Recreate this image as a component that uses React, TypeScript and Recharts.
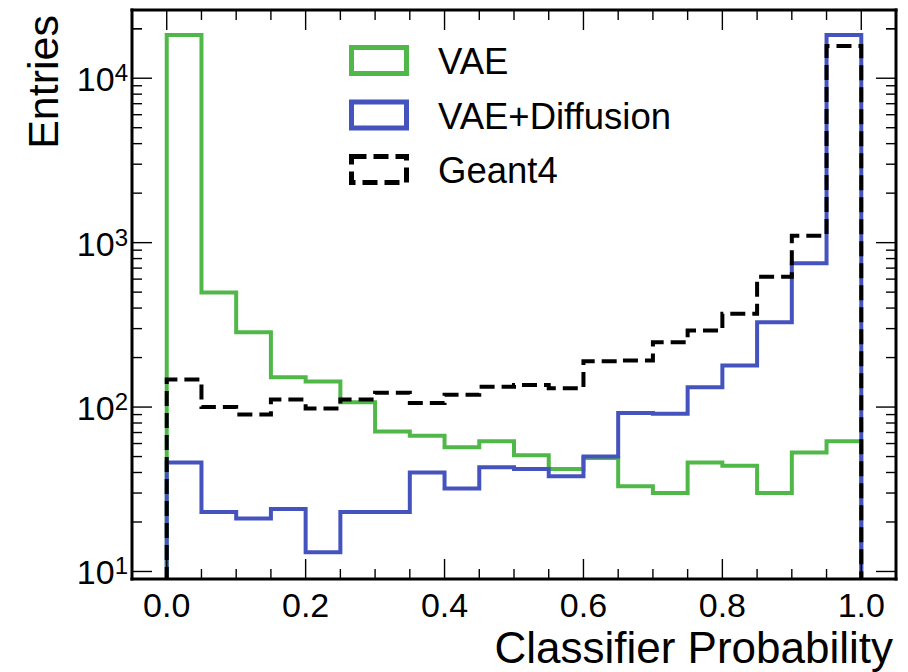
import React from 'react';
import { LineChart, Line, XAxis, YAxis } from 'recharts';

// bin edges of the classifier-probability histogram (20 bins)
const binEdges = [
  0, 0.05, 0.1, 0.15, 0.2, 0.25, 0.3, 0.35, 0.4, 0.45, 0.5,
  0.55, 0.6, 0.65, 0.7, 0.75, 0.8, 0.85, 0.9, 0.95, 1.0,
];

// entries per bin
const vaeCounts = [18300, 497, 285, 152, 143, 107, 71, 67, 57, 62, 51, 42, 49, 33, 30, 46, 44, 30, 53, 62];
const diffusionCounts = [46, 23, 21, 24, 13.1, 23, 23, 40, 32, 43, 42, 38, 50, 92, 91, 132, 179, 328, 750, 18300];
const geant4Counts = [147, 100, 90, 111, 98, 111, 122, 106, 119, 133, 136, 130, 190, 192, 248, 292, 369, 621, 1100, 15700];

const seriesNames = ['VAE', 'VAE+Diffusion', 'Geant4'];
const seriesKeys = ['vae', 'diffusion', 'geant4'];
const seriesColors = ['#50b848', '#4453bd', '#000000'];

const xMajorTicks = [0, 0.2, 0.4, 0.6, 0.8, 1.0];
const xMajorLabels = ['0.0', '0.2', '0.4', '0.6', '0.8', '1.0'];
const yDecades = [10, 100, 1000, 10000];
const yDecadeExponents = ['1', '2', '3', '4'];

const X_DOMAIN = [-0.05, 1.05];
const Y_DOMAIN = [9, 26000];
const FLOOR = 1; // below the axis: outline drops to the frame at both ends

const FONT = '"Liberation Sans", Arial, Helvetica, sans-serif';

function buildRows() {
  const last = vaeCounts.length - 1;
  const rows: Record<string, number>[] = [];
  rows.push({ x: binEdges[0], vae: FLOOR, diffusion: FLOOR, geant4: FLOOR });
  binEdges.forEach((edge, i) => {
    const k = Math.min(i, last);
    rows.push({
      x: edge,
      vae: vaeCounts[k],
      diffusion: diffusionCounts[k],
      geant4: geant4Counts[k],
    });
  });
  rows.push({ x: binEdges[binEdges.length - 1], vae: FLOOR, diffusion: FLOOR, geant4: FLOOR });
  return rows;
}

// minor ticks 2..9 x decade, plus decades
const yTicks: number[] = [];
yDecades.forEach((d) => {
  for (let m = 1; m <= 9; m++) {
    const v = d * m;
    if (v <= Y_DOMAIN[1]) yTicks.push(v);
  }
});
yTicks.push(20000);

const majorIndex = (v: number) => xMajorTicks.findIndex((t) => Math.abs(t - v) < 1e-6);
const decadeIndex = (v: number) => yDecades.findIndex((t) => Math.abs(t - v) < 1e-6);

const TICK = { stroke: '#000', strokeWidth: 1.4 };

function XTickBottom(props: any) {
  const { x, y, payload } = props;
  const mi = majorIndex(payload.value);
  return (
    <g>
      <line x1={x} x2={x} y1={y} y2={y - (mi >= 0 ? 20 : 10)} {...TICK} />
      {mi >= 0 && (
        <text x={x} y={y + 38} textAnchor="middle" fontSize={34} fontFamily={FONT} fill="#000">
          {xMajorLabels[mi]}
        </text>
      )}
    </g>
  );
}

function XTickTop(props: any) {
  const { x, y, payload } = props;
  const mi = majorIndex(payload.value);
  return <line x1={x} x2={x} y1={y} y2={y + (mi >= 0 ? 20 : 10)} {...TICK} />;
}

function YTickLeft(props: any) {
  const { x, y, payload } = props;
  const di = decadeIndex(payload.value);
  return (
    <g>
      <line x1={x} x2={x + (di >= 0 ? 20 : 10)} y1={y} y2={y} {...TICK} />
      {di >= 0 && (
        <text x={x - 4} y={y + 13} textAnchor="end" fontSize={34} fontFamily={FONT} fill="#000">
          <tspan>10</tspan>
          <tspan fontSize={24} dy={-10}>{yDecadeExponents[di]}</tspan>
        </text>
      )}
    </g>
  );
}

function YTickRight(props: any) {
  const { x, y, payload } = props;
  const di = decadeIndex(payload.value);
  return <line x1={x} x2={x - (di >= 0 ? 20 : 10)} y1={y} y2={y} {...TICK} />;
}

const frameLine = { stroke: '#000', strokeWidth: 3, strokeLinecap: 'square' as const };

function YTitle(props: any) {
  const vb = props.viewBox;
  const x = vb.x + 58;
  const y = vb.y + 5;
  return (
    <text x={x} y={y} transform={`rotate(-90, ${x}, ${y})`} textAnchor="end" fontSize={43} fontFamily={FONT} fill="#000">
      Entries
    </text>
  );
}

function XTitle(props: any) {
  const vb = props.viewBox;
  return (
    <text x={vb.x + vb.width - 3} y={vb.y + 84} textAnchor="end" fontSize={44} fontFamily={FONT} fill="#000">
      Classifier Probability
    </text>
  );
}

function HistLegend() {
  return (
    <svg width={380} height={190} style={{ position: 'absolute', left: 340, top: 36 }}>
      {seriesNames.map((name, i) => (
        <g key={name} transform={`translate(0, ${i * 54.5})`}>
          <rect
            x={11.5}
            y={11.5}
            width={55}
            height={26}
            fill="none"
            stroke={seriesColors[i]}
            strokeWidth={5}
            strokeDasharray={i === 2 ? '15 7' : undefined}
          />
          <text x={98} y={38} fontSize={36.5} fontFamily={FONT} fill="#000">
            {name}
          </text>
        </g>
      ))}
    </svg>
  );
}

export default function App() {
  const rows = buildRows();
  return (
    <div style={{ position: 'relative', width: 908, height: 672, background: '#fff' }}>
      <style>{'body { margin: 0; }'}</style>
      <LineChart width={908} height={672} data={rows} margin={{ top: 0, right: 0, bottom: 0, left: 0 }}>
        <XAxis
          dataKey="x"
          type="number"
          domain={X_DOMAIN}
          allowDataOverflow
          ticks={binEdges}
          interval={0}
          height={93}
          tickSize={0}
          tickMargin={0}
          tickLine={false}
          axisLine={frameLine}
          tick={<XTickBottom />}
          label={<XTitle />}
        />
        <XAxis
          xAxisId="top"
          orientation="top"
          dataKey="x"
          type="number"
          domain={X_DOMAIN}
          allowDataOverflow
          ticks={binEdges}
          interval={0}
          height={10}
          tickSize={0}
          tickMargin={0}
          tickLine={false}
          axisLine={frameLine}
          tick={<XTickTop />}
        />
        <YAxis
          scale="log"
          type="number"
          domain={Y_DOMAIN}
          allowDataOverflow
          ticks={yTicks}
          interval={0}
          width={132}
          tickSize={0}
          tickMargin={0}
          tickLine={false}
          axisLine={frameLine}
          tick={<YTickLeft />}
          label={<YTitle />}
        />
        <YAxis
          yAxisId="right"
          orientation="right"
          scale="log"
          type="number"
          domain={Y_DOMAIN}
          allowDataOverflow
          ticks={yTicks}
          interval={0}
          width={12}
          tickSize={0}
          tickMargin={0}
          tickLine={false}
          axisLine={frameLine}
          tick={<YTickRight />}
        />
        {seriesKeys.map((key, i) => (
          <Line
            key={key}
            type="stepAfter"
            dataKey={key}
            name={seriesNames[i]}
            stroke={seriesColors[i]}
            strokeWidth={4}
            strokeDasharray={i === 2 ? '15 7' : undefined}
            dot={false}
            activeDot={false}
            isAnimationActive={false}
          />
        ))}
      </LineChart>
      <HistLegend />
    </div>
  );
}
